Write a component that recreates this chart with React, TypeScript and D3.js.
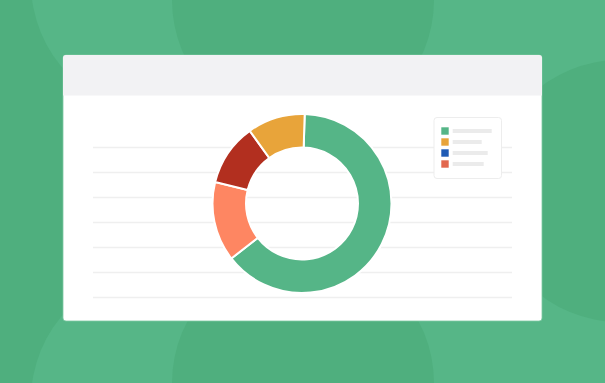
import React from "react";
import * as d3 from "d3";

const sliceNames = ["Green", "Coral", "Crimson", "Amber"];
const sliceValues = [64, 14.4, 11.2, 10.4];
const sliceColors = ["#55b587", "#fe8662", "#b22f1f", "#e8a43a"];

const legendColors = ["#55b587", "#e8a43a", "#1f5bb5", "#e2674e"];
const legendBarLengths = [39, 29, 35, 31];

const gridLines = [0, 1, 2, 3, 4, 5, 6];

const W = 605;
const H = 383;

export default function App() {
  const cx = 302;
  const cy = 203.5;
  const outerR = 89.5;
  const innerR = 56;

  const pie = d3
    .pie<number>()
    .sort(null)
    .value((d) => d)
    .startAngle(0.03)
    .endAngle(Math.PI * 2 + 0.03);
  const arcs = pie(sliceValues);
  const arcGen = d3.arc<d3.PieArcDatum<number>>().innerRadius(innerR).outerRadius(outerR);

  const yGrid = d3.scaleLinear().domain([0, 6]).range([147.5, 297.5]);
  const yLegend = d3.scaleLinear().domain([0, 3]).range([131, 164]);

  return (
    <svg
      width={W}
      height={H}
      style={{ position: "fixed", left: 0, top: 0, display: "block" }}
    >
      <rect x={0} y={0} width={W} height={H} fill="#4faf7e" />
      <circle cx={161} cy={-17} r={130} fill="#56b687" />
      <circle cx={161} cy={400} r={130} fill="#56b687" />
      <circle cx={490} cy={-20} r={175} fill="#56b687" />
      <circle cx={490} cy={403} r={175} fill="#56b687" />
      <circle cx={303} cy={0} r={131} fill="#4faf7e" />
      <circle cx={303} cy={383} r={131} fill="#4faf7e" />
      <circle cx={620} cy={191} r={131} fill="#4faf7e" />

      <rect x={63} y={55} width={479} height={266} rx={3} fill="#ffffff" stroke="#7fc9a2" strokeWidth={0.8} />
      <path d="M63,95.5 L63,58 Q63,55 66,55 L539,55 Q542,55 542,58 L542,95.5 Z" fill="#f2f2f4" />

      {gridLines.map((g) => (
        <line
          key={g}
          x1={93}
          x2={512}
          y1={yGrid(g)}
          y2={yGrid(g)}
          stroke="#efefef"
          strokeWidth={1.5}
        />
      ))}

      <g transform={`translate(${cx},${cy})`}>
        {arcs.map((a, i) => (
          <path
            key={sliceNames[i]}
            d={arcGen(a) || ""}
            fill={sliceColors[i]}
            stroke="#ffffff"
            strokeWidth={2}
          />
        ))}
      </g>

      <rect x={434} y={117.5} width={67.5} height={61} rx={3} fill="#ffffff" stroke="#ededed" strokeWidth={1} />
      {legendColors.map((c, i) => (
        <g key={c}>
          <rect x={441.3} y={yLegend(i) - 3.7} width={7.4} height={7.4} fill={c} />
          <rect
            x={452.7}
            y={yLegend(i) - 2}
            width={legendBarLengths[i]}
            height={4}
            fill="#ebebeb"
          />
        </g>
      ))}
    </svg>
  );
}
